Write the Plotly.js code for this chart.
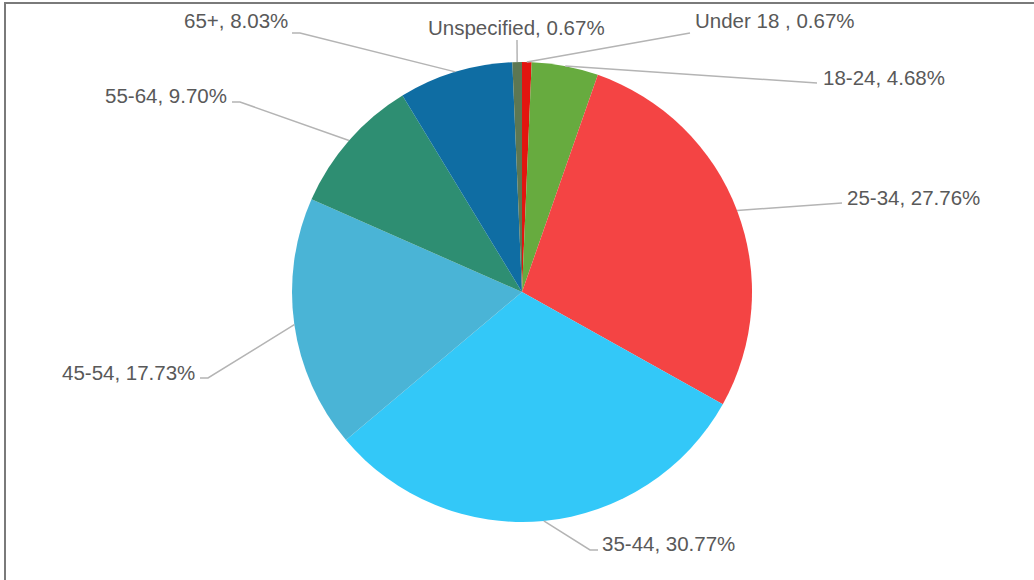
<!DOCTYPE html>
<html><head><meta charset="utf-8">
<script src="https://cdn.plot.ly/plotly-3.0.1.min.js"></script>
<style>html,body{margin:0;padding:0;background:#fff}#chart{width:1034px;height:580px}</style>
</head><body><div id="chart"></div>
<script>
// ---- data ----
const categories = ["Under 18", "18-24", "25-34", "35-44", "45-54", "55-64", "65+", "Unspecified"];
const shares = [0.67, 4.68, 27.76, 30.77, 17.73, 9.70, 8.03, 0.67];
const labelTexts = ["Under 18 , 0.67%", "18-24, 4.68%", "25-34, 27.76%", "35-44, 30.77%", "45-54, 17.73%", "55-64, 9.70%", "65+, 8.03%", "Unspecified, 0.67%"];
const sliceColors = ["#e3150f", "#67ab3f", "#f44444", "#33c8f8", "#4ab4d6", "#2e8e72", "#0f6da3", "#5d7752"];

// ---- geometry (page pixels) ----
const W = 1034, H = 580, M = {l: 10, r: 0, t: 62, b: 58};
const plotW = W - M.l - M.r, plotH = H - M.t - M.b;
const cx = M.l + plotW / 2, cy = M.t + plotH / 2, R = Math.min(plotW, plotH) / 2;
const px = x => (x - M.l) / plotW;
const py = y => (H - M.b - y) / plotH;

// label placements: text position + leader line points near the label
const placements = [
  {tx: 693, ty: 21, xa: 'left', pts: [[690, 33]]},
  {tx: 821, ty: 77, xa: 'left', pts: [[817, 83]]},
  {tx: 845, ty: 197, xa: 'left', pts: [[842, 203]]},
  {tx: 600, ty: 543, xa: 'left', pts: [[590, 550], [598, 550]]},
  {tx: 197, ty: 372, xa: 'right', pts: [[208, 378], [200, 378]]},
  {tx: 229, ty: 95, xa: 'right', pts: [[240, 102], [232, 102]]},
  {tx: 290, ty: 20, xa: 'right', pts: [[300, 33], [292, 33]]},
  {tx: 516, ty: 27, xa: 'center', pts: [[517, 40]]}
];

const total = shares.reduce((a, b) => a + b, 0);
let cum = 0;
const shapes = [];
const annotations = [];
shares.forEach((v, i) => {
  const mid = (cum + v / 2) / total * 2 * Math.PI;
  cum += v;
  const ax = cx + R * Math.sin(mid), ay = cy - R * Math.cos(mid);
  const p = placements[i];
  let path = 'M ' + px(ax) + ',' + py(ay);
  p.pts.forEach(q => { path += ' L ' + px(q[0]) + ',' + py(q[1]); });
  shapes.push({type: 'path', xref: 'paper', yref: 'paper', path: path,
    line: {color: '#b4b4b4', width: 1.5}});
  annotations.push({xref: 'paper', yref: 'paper', x: px(p.tx), y: py(p.ty),
    xanchor: p.xa, yanchor: 'middle', showarrow: false, text: labelTexts[i],
    font: {family: 'Liberation Sans, Arial, sans-serif', size: 20.5, color: '#595959'}});
});

// frame lines (top and left)
shapes.push({type: 'line', xref: 'paper', yref: 'paper', x0: px(4), x1: px(1040), y0: py(3), y1: py(3), line: {color: '#7a7a7a', width: 2}});
shapes.push({type: 'line', xref: 'paper', yref: 'paper', x0: px(5), x1: px(5), y0: py(3), y1: py(590), line: {color: '#7a7a7a', width: 2}});

const trace = {
  type: 'pie', labels: categories, values: shares, sort: false,
  direction: 'clockwise', rotation: 0, textinfo: 'none',
  marker: {colors: sliceColors, line: {width: 0}},
  showlegend: false, domain: {x: [0, 1], y: [0, 1]}
};

Plotly.newPlot('chart', [trace], {
  width: W, height: H, margin: M,
  paper_bgcolor: '#ffffff', plot_bgcolor: '#ffffff',
  shapes: shapes, annotations: annotations, showlegend: false
}, {displayModeBar: false, staticPlot: true});
</script></body></html>
